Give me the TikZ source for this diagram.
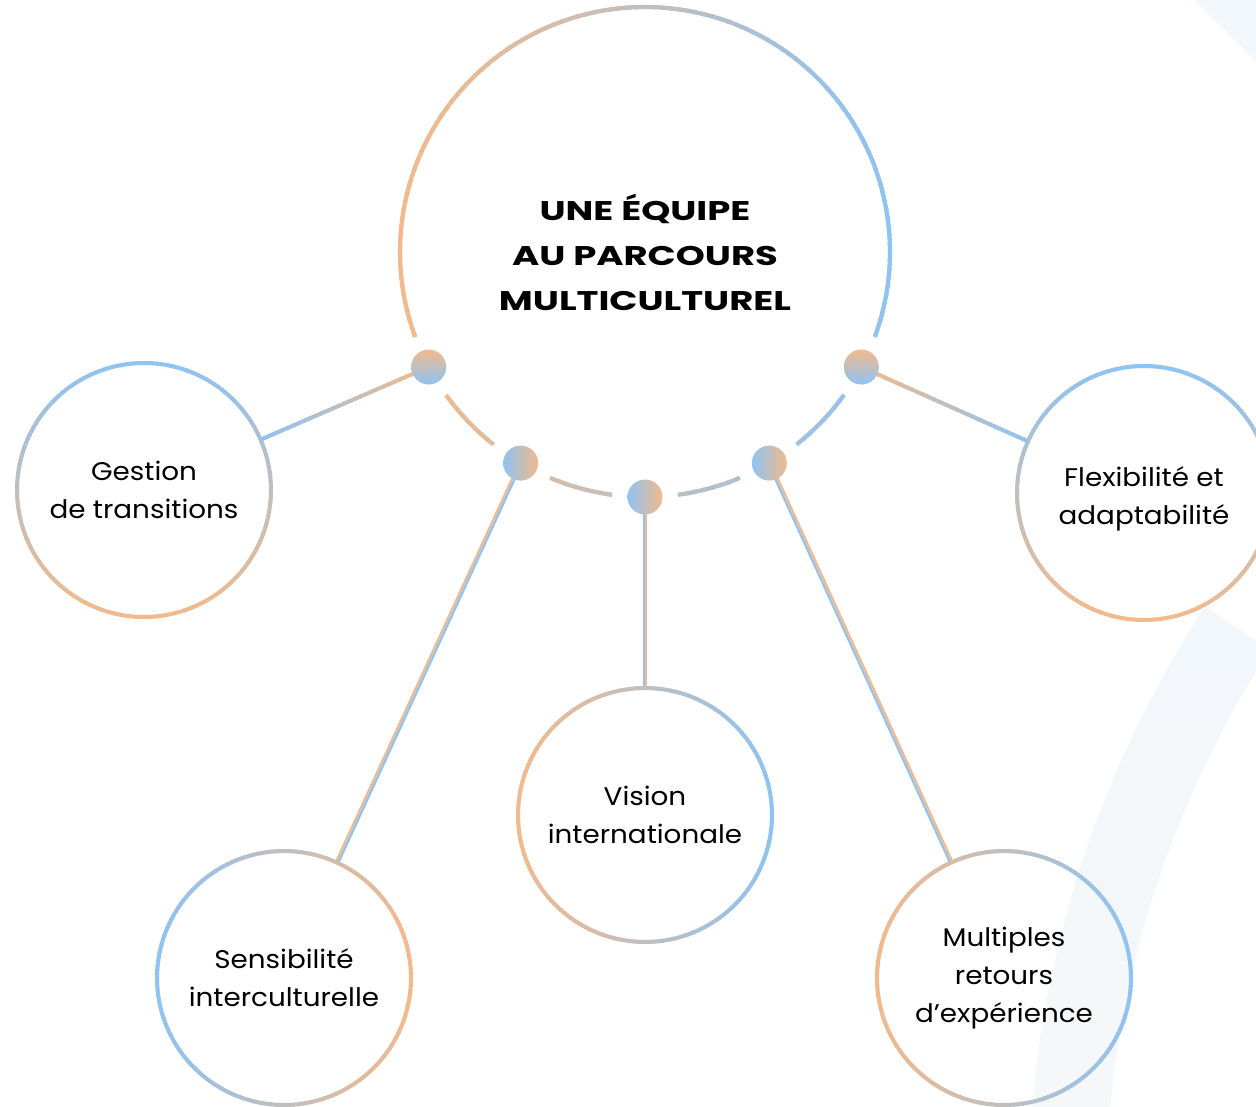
\documentclass[tikz,border=0pt]{standalone}
\usepackage{fontspec}
\setmainfont{Poppins}[FakeStretch=1.09]
\newfontfamily\titlefont{Poppins}[FakeStretch=1.37]
\usetikzlibrary{calc}
\definecolor{cblue}{HTML}{8EC3F2}
\definecolor{corange}{HTML}{F2BA8C}
\definecolor{bandtop}{HTML}{F2F7FB}
\definecolor{bandbot}{HTML}{F7F7F8}
\definecolor{bandtr}{HTML}{F2F7FB}
\pgfdeclarelayer{back}
\pgfdeclarelayer{links}
\pgfsetlayers{back,links,main}

% gradient arc: #1 centre node, #2 radius (pt number), #3 start, #4 end, #5 gradient angle, #6 colour at that angle, #7 opposite colour, #8 width
\newcommand\garc[8]{%
  \pgfmathtruncatemacro\gaN{ceil((#4-(#3))/2)-1}%
  \foreach \gi in {0,...,\gaN}{%
    \pgfmathsetmacro\gaS{#3+2*\gi}%
    \pgfmathsetmacro\gaE{min(\gaS+2.6,#4)}%
    \pgfmathsetmacro\gaM{(\gaS+\gaE)/2}%
    \pgfmathsetmacro\gaT{50*(1+cos(\gaM-(#5)))}%
    \draw[line width=#8, draw=#6!\gaT!#7] ($(#1.center)+(\gaS:#2pt)$) arc[start angle=\gaS, end angle=\gaE, radius=#2pt];
  }}
% gradient straight line: #1 start, #2 end, #3 start colour, #4 end colour, #5 width
\newcommand\gline[5]{%
  \foreach \gi in {0,...,29}{%
    \pgfmathsetmacro\glA{\gi/30}%
    \pgfmathsetmacro\glB{min((\gi+1.3)/30,1)}%
    \pgfmathsetmacro\glT{100*(1-(\gi+0.5)/30)}%
    \draw[line width=#5, draw=#3!\glT!#4] ($(#1)!\glA!(#2)$) -- ($(#1)!\glB!(#2)$);
  }}
% double line: #3 colour on the -90 side, #4 colour on the +90 side
\newcommand\dline[5]{%
  \draw[line width=#5, draw=#3] ($(#1)!1.2pt!-90:(#2)$) -- ($(#2)!1.2pt!90:(#1)$);
  \draw[line width=#5, draw=#4] ($(#1)!1.2pt!90:(#2)$) -- ($(#2)!1.2pt!-90:(#1)$);
}

\tikzset{
  bubbletext/.style={align=center, font=\fontsize{25.5}{38}\selectfont, text=black},
  bubble/.style={circle, minimum size=254pt, inner sep=0pt, outer sep=0pt, bubbletext},
  hub/.style={circle, minimum size=490pt, inner sep=0pt, outer sep=0pt, align=center,
    font=\titlefont\bfseries\fontsize{27}{45}\selectfont, text=black},
  dotv/.style={circle, minimum size=35pt, inner sep=0pt, outer sep=0pt, top color=corange, bottom color=cblue},
  doth/.style={circle, minimum size=35pt, inner sep=0pt, outer sep=0pt, left color=cblue, right color=corange},
}

\begin{document}
\begin{tikzpicture}[x=1pt,y=-1pt]
\useasboundingbox (0,0) rectangle (1256,1107);
\clip (0,0) rectangle (1256,1107);

% background band
\begin{pgfonlayer}{back}
  \clip (0,0) rectangle (1256,1107);
  \fill[white] (0,0) rectangle (1256,1107);
  \coordinate (bgc) at (2110,1200);
  \shade[top color=bandtop, bottom color=bandbot]
    ($(bgc)+(146.75:1082pt)$) arc[start angle=146.75, end angle=186, radius=1082pt]
    -- ($(bgc)+(186:1004pt)$) arc[start angle=186, end angle=146.75, radius=1004pt] -- cycle;
  \fill[bandtr] (1195,0) -- (1256,62) -- (1256,0) -- cycle;
\end{pgfonlayer}

% nodes
\node[hub] (main) at (645,252) {UNE ÉQUIPE\\AU PARCOURS\\MULTICULTUREL};
\node[bubble] (gest) at (144,490) {Gestion\\de transitions};
\node[bubble, label={[bubbletext, yshift=-6pt]center:Flexibilité et\\adaptabilité}] (flex) at (1144,493) {};
\node[bubble] (sens) at (284,978) {Sensibilité\\interculturelle};
\node[bubble] (vis) at (645,815) {Vision\\internationale};
\node[bubble] (mult) at (1004,978) {Multiples\\retours\\d’expérience};

% gradient strokes
\garc{main}{245}{-20.3}{200.3}{0}{cblue}{corange}{4.3pt}
\garc{main}{245}{215.7}{231.8}{0}{cblue}{corange}{4.3pt}
\garc{main}{245}{247.2}{262.3}{0}{cblue}{corange}{4.3pt}
\garc{main}{245}{277.7}{292.8}{0}{cblue}{corange}{4.3pt}
\garc{main}{245}{308.2}{324.3}{0}{cblue}{corange}{4.3pt}
\garc{gest}{127}{0}{360}{90}{cblue}{corange}{4pt}
\garc{flex}{127}{0}{360}{90}{cblue}{corange}{4pt}
\garc{sens}{127}{0}{360}{180}{cblue}{corange}{4pt}
\garc{vis}{127}{0}{360}{0}{cblue}{corange}{4pt}
\garc{mult}{127}{0}{360}{0}{cblue}{corange}{4pt}

% dots
\node[dotv] (d1) at ($(main.center)+(208:245pt)$) {};
\node[doth] (d2) at ($(main.center)+(239.5:245pt)$) {};
\node[doth] (d3) at ($(main.center)+(270:245pt)$) {};
\node[doth] (d4) at ($(main.center)+(300.5:245pt)$) {};
\node[dotv] (d5) at ($(main.center)+(332:245pt)$) {};

% connector ends on the bubble borders
\coordinate (e1) at ($(gest.center)!127pt!(d1.center)$);
\coordinate (e2) at ($(sens.center)!127pt!(d2.center)$);
\coordinate (e3) at ($(vis.center)!127pt!(d3.center)$);
\coordinate (e4) at ($(mult.center)!127pt!(d4.center)$);
\coordinate (e5) at ($(flex.center)!127pt!(d5.center)$);

\begin{pgfonlayer}{links}
  \gline{d1.center}{e1}{corange}{cblue}{4pt}
  \gline{d5.center}{e5}{corange}{cblue}{4pt}
  \dline{d2.center}{e2}{corange}{cblue}{2.3pt}
  \dline{d3.center}{e3}{cblue}{corange}{2.3pt}
  \dline{d4.center}{e4}{cblue}{corange}{2.3pt}
\end{pgfonlayer}
\end{tikzpicture}
\end{document}
